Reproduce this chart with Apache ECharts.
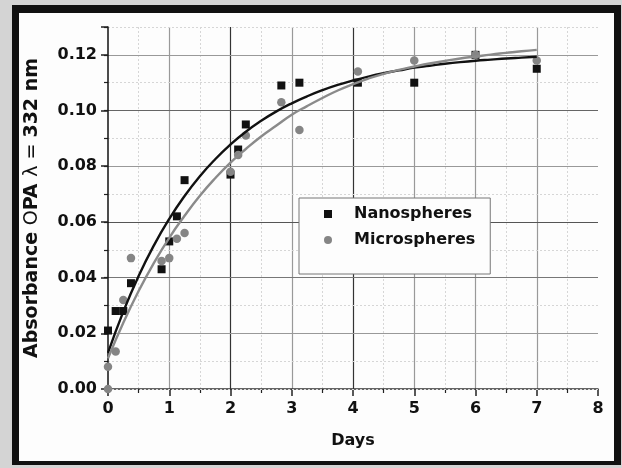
<!DOCTYPE html>
<html>
<head>
<meta charset="utf-8">
<script src="https://cdn.jsdelivr.net/npm/echarts@6/dist/echarts.min.js"></script>
<style>
  html, body { margin: 0; padding: 0; background: #d4d4d4; }
  #frame { position: absolute; left: 12px; top: 5px; width: 609px; height: 460px; background: #111; }
  #paper { position: absolute; left: 19px; top: 13px; width: 595px; height: 448px; background: #fdfdfd; }
  #chart { position: absolute; left: 0; top: 0; width: 622px; height: 468px; }
</style>
</head>
<body>
<div id="frame"></div>
<div id="paper"></div>
<div id="chart"></div>
<script>
// Measured absorbance (OPA, 332 nm) versus release time in days
const nanoDays  = [0, 0.125, 0.25, 0.375, 0.875, 1.0, 1.125, 1.25, 2.0, 2.125, 2.25, 2.83, 3.125, 4.08, 5.0, 6.0, 7.0];
const nanoAbs   = [0.021, 0.028, 0.028, 0.038, 0.043, 0.053, 0.062, 0.075, 0.077, 0.086, 0.095, 0.109, 0.110, 0.110, 0.110, 0.120, 0.115];
const microDays = [0, 0, 0.125, 0.25, 0.375, 0.875, 1.0, 1.125, 1.25, 2.0, 2.125, 2.25, 2.83, 3.125, 4.08, 5.0, 6.0, 7.0];
const microAbs  = [0.0, 0.008, 0.0135, 0.032, 0.047, 0.046, 0.047, 0.054, 0.056, 0.078, 0.084, 0.091, 0.103, 0.093, 0.114, 0.118, 0.120, 0.118];

// Fitted release curves, sampled every quarter day
const fitDays = [0, 0.25, 0.5, 0.75, 1, 1.25, 1.5, 1.75, 2, 2.25, 2.5, 2.75, 3, 3.25, 3.5, 3.75,
                 4, 4.25, 4.5, 4.75, 5, 5.25, 5.5, 5.75, 6, 6.25, 6.5, 6.75, 7];
const nanoFitAbs = [0.0130, 0.0278, 0.0406, 0.0516, 0.0611, 0.0693, 0.0764, 0.0825, 0.0878, 0.0924,
                    0.0963, 0.0997, 0.1026, 0.1051, 0.1073, 0.1092, 0.1108, 0.1122, 0.1134, 0.1144,
                    0.1154, 0.1161, 0.1168, 0.1174, 0.1179, 0.1183, 0.1187, 0.1190, 0.1193];
const microFitAbs = [0.0110, 0.0238, 0.0352, 0.0453, 0.0543, 0.0622, 0.0694, 0.0757, 0.0813, 0.0862,
                     0.0907, 0.0946, 0.0985, 0.1016, 0.1045, 0.1072, 0.1095, 0.1115, 0.1132, 0.1146,
                     0.1158, 0.1169, 0.1178, 0.1187, 0.1194, 0.1201, 0.1207, 0.1213, 0.1218];

const xTicks = [0, 1, 2, 3, 4, 5, 6, 7, 8];
const yTickStep = 0.02;
const seriesNames = ['Nanospheres', 'Microspheres'];

const pairs = (xs, ys) => xs.map((x, i) => [x, ys[i]]);

const FONT = 'DejaVu Sans';
const INK = '#111';
const GREY = '#858585';

const chart = echarts.init(document.getElementById('chart'), null, { renderer: 'canvas' });

chart.setOption({
  animation: false,
  backgroundColor: 'transparent',
  grid: { left: 108, right: 24, top: 27, bottom: 79, containLabel: false },
  legend: {
    data: [
      { name: seriesNames[0], icon: 'rect' },
      { name: seriesNames[1], icon: 'circle' }
    ],
    orient: 'vertical',
    left: 299, top: 198,
    padding: [7, 15, 25, 25],
    itemWidth: 8, itemHeight: 8, itemGap: 8,
    backgroundColor: '#fdfdfd',
    borderColor: '#777', borderWidth: 1,
    selectedMode: false,
    textStyle: { fontFamily: FONT, fontWeight: 'bold', fontSize: 16, color: INK, lineHeight: 18, padding: [0, 0, 0, 17] }
  },
  xAxis: {
    type: 'value', min: xTicks[0], max: xTicks[xTicks.length - 1], interval: 1,
    name: 'Days', nameLocation: 'middle', nameGap: 44,
    nameTextStyle: { fontFamily: FONT, fontWeight: 'bold', fontSize: 16, color: INK },
    axisLine: { show: true, onZero: false, lineStyle: { color: '#333', width: 1.5 } },
    axisTick: { show: true, inside: false, length: 7, lineStyle: { color: '#222', width: 1.5 } },
    minorTick: { show: true, splitNumber: 2, length: 4, lineStyle: { color: '#222', width: 1.2 } },
    axisLabel: { margin: 12, fontFamily: FONT, fontWeight: 'bold', fontSize: 16, color: INK },
    splitLine: { show: true, lineStyle: { width: 1.2, color: ['rgba(0,0,0,0)', '#999', '#333', '#999', '#333', '#999', '#999', '#999', 'rgba(0,0,0,0)'] } },
    minorSplitLine: { show: true, lineStyle: { color: '#d6d6d6', width: 1, type: [2, 2] } }
  },
  yAxis: [
    {
      type: 'value', min: 0, max: 0.13, interval: yTickStep, z: 2,
      name: '{b|Absorbance }{n|O}{b|PA }{n|λ = }{b|332 nm}',
      nameLocation: 'middle', nameGap: 66, nameRotate: 90,
      nameTextStyle: {
        rich: {
          b: { fontFamily: FONT, fontWeight: 'bold', fontSize: 19, color: INK },
          n: { fontFamily: FONT, fontWeight: 'normal', fontSize: 19, color: INK }
        }
      },
      axisLine: { show: true, onZero: false, lineStyle: { color: INK, width: 1.5 } },
      axisTick: { show: true, inside: false, length: 7, lineStyle: { color: '#222', width: 1.5 } },
      axisLabel: {
        margin: 11, fontFamily: FONT, fontWeight: 'bold', fontSize: 16, color: INK,
        formatter: v => (Math.abs(v / yTickStep - Math.round(v / yTickStep)) < 1e-6 ? v.toFixed(2) : '')
      },
      splitLine: { show: true, lineStyle: { width: 1.2, color: ['rgba(0,0,0,0)', '#999', '#777', '#555', '#999', '#666', '#999', 'rgba(0,0,0,0)'] } }
    },
    {
      // minor grid at every 0.01
      type: 'value', min: 0, max: 0.13, interval: 0.01, position: 'left', z: 1,
      axisLine: { show: false },
      axisTick: { show: true, inside: false, length: 4, lineStyle: { color: '#222', width: 1.2 } },
      axisLabel: { show: false },
      splitLine: { show: true, lineStyle: { color: '#d6d6d6', width: 1, type: [2, 2] } }
    }
  ],
  series: [
    {
      name: seriesNames[0], type: 'scatter', symbol: 'rect', symbolSize: 8, z: 3,
      itemStyle: { color: INK, opacity: 1 },
      data: pairs(nanoDays, nanoAbs)
    },
    {
      name: seriesNames[1], type: 'scatter', symbol: 'circle', symbolSize: 8.5, z: 3,
      itemStyle: { color: GREY, opacity: 1 },
      data: pairs(microDays, microAbs)
    },
    {
      name: 'Nanospheres fit', type: 'line', smooth: true, showSymbol: false, z: 4,
      lineStyle: { color: INK, width: 2.4 },
      data: pairs(fitDays, nanoFitAbs)
    },
    {
      name: 'Microspheres fit', type: 'line', smooth: true, showSymbol: false, z: 4,
      lineStyle: { color: '#8a8a8a', width: 2.4 },
      data: pairs(fitDays, microFitAbs)
    }
  ]
});
</script>
</body>
</html>
